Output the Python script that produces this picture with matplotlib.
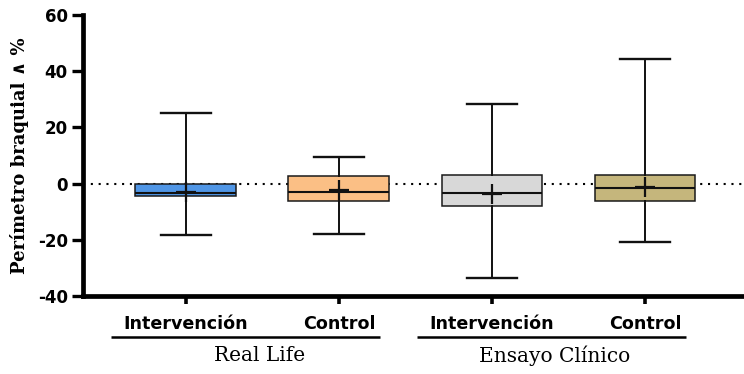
import matplotlib
matplotlib.use("Agg")
import matplotlib.pyplot as plt

plt.rcParams["axes.unicode_minus"] = False

# Box statistics per group (arm-circumference change, %)
labels = ["Intervención", "Control", "Intervención", "Control"]
whislo = [-18.4, -17.8, -33.6, -20.9]
q1 = [-4.5, -6.3, -8.0, -6.3]
med = [-3.2, -3.1, -3.3, -1.6]
q3 = [0.0, 2.7, 3.0, 3.0]
whishi = [25.0, 9.3, 28.5, 44.2]
means = [-2.9, -2.4, -3.8, -1.2]

groups = ["Real Life", "Ensayo Clínico"]
group_members = [[0, 1], [2, 3]]

colors = ["#5096E6", "#FBBF85", "#D8D8D8", "#C5B67C"]
positions = [1, 2, 3, 4]
group_label_shift = [-0.02, -0.09]

fig = plt.figure(figsize=(7.44, 3.74), dpi=100)
ax = fig.add_axes([83 / 744, (374 - 296) / 374, (744 - 83) / 744, (296 - 15) / 374])

stats = []
for i in range(len(labels)):
    stats.append(dict(label=labels[i], whislo=whislo[i], q1=q1[i], med=med[i],
                      q3=q3[i], whishi=whishi[i], mean=means[i]))

# zero reference line
ax.axhline(0, color="black", lw=1.5, linestyle=(0, (1, 2.75)), zorder=1)

bp = ax.bxp(stats, positions=positions, widths=0.66, patch_artist=True,
            showmeans=True, showfliers=False,
            boxprops=dict(edgecolor="#1a1a1a", linewidth=1.1),
            medianprops=dict(color="#111111", linewidth=1.5),
            whiskerprops=dict(color="#111111", linewidth=1.4),
            capprops=dict(color="#111111", linewidth=1.7),
            meanprops=dict(marker="+", markersize=15, markeredgewidth=1.6,
                           markeredgecolor="#111111"),
            capwidths=0.33, zorder=2)
for patch, c in zip(bp["boxes"], colors):
    patch.set_facecolor(c)

ax.set_xlim(0.327, 4.647)
ax.set_ylim(-40, 60)
ax.set_yticks([-40, -20, 0, 20, 40, 60])
ax.set_xticks(positions)
ax.set_xticklabels(labels)

for s in ["top", "right"]:
    ax.spines[s].set_visible(False)
for s in ["left", "bottom"]:
    ax.spines[s].set_linewidth(3.4)
    ax.spines[s].set_capstyle("projecting")

ax.tick_params(axis="y", direction="out", length=8, width=2.4, pad=3)
ax.tick_params(axis="x", direction="out", length=6, width=2.6, pad=8)
for t in ax.get_yticklabels():
    t.set_fontfamily("DejaVu Sans")
    t.set_fontweight("bold")
    t.set_fontsize(12)
for t in ax.get_xticklabels():
    t.set_fontfamily("DejaVu Sans")
    t.set_fontweight("bold")
    t.set_fontsize(12.6)

ax.set_ylabel("Perímetro braquial ∧ %", family=["DejaVu Serif", "DejaVu Sans"],
              fontweight="bold", fontsize=13, labelpad=6)

# group brackets beneath the tick labels
trans = ax.get_xaxis_transform()
for name, members, shift in zip(groups, group_members, group_label_shift):
    x0 = positions[members[0]] - 0.49
    x1 = positions[members[-1]] + 0.27
    ax.plot([x0, x1], [-0.146, -0.146], transform=trans, color="black",
            lw=1.8, clip_on=False, solid_capstyle="butt")
    xc = (positions[members[0]] + positions[members[-1]]) / 2 + shift
    ax.text(xc, -0.212, name, transform=trans, ha="center", va="center",
            family="DejaVu Serif", fontsize=14.5)

fig.savefig("out.png", dpi=100)
